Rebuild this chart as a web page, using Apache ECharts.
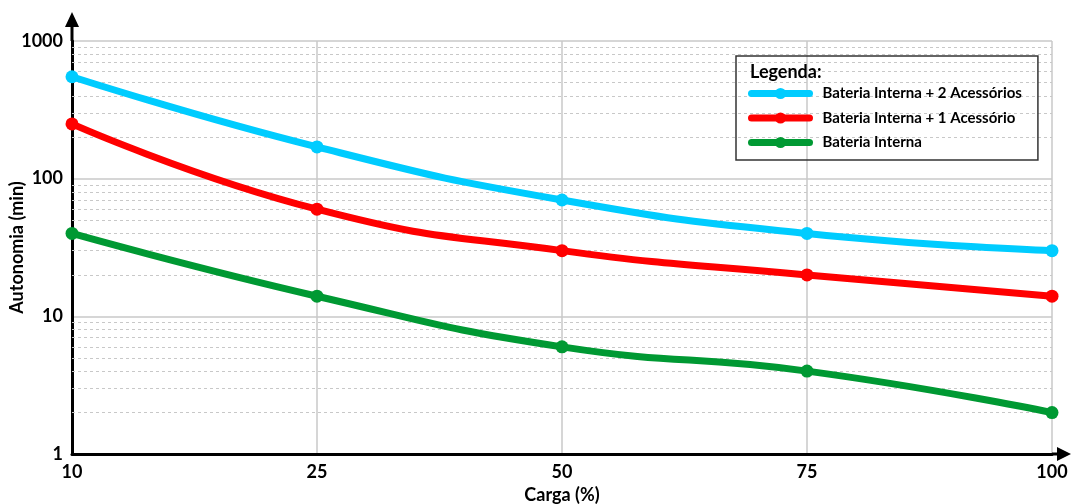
<!DOCTYPE html>
<html>
<head>
<meta charset="utf-8">
<script src="https://cdn.jsdelivr.net/npm/echarts@6/dist/echarts.min.js"></script>
<style>
html, body { margin: 0; padding: 0; background: #fff; }
#chart { width: 1072px; height: 504px; }
</style>
</head>
<body>
<div id="chart"></div>
<script>
// categorias do eixo x (carga %)
var carga = ['10', '25', '50', '75', '100'];
// autonomia em minutos
var bateria2Acess = [550, 170, 70, 40, 30];
var bateria1Acess = [250, 60, 30, 20, 14];
var bateriaInterna = [40, 14, 6, 4, 2];
var nomes = ['Bateria Interna + 2 Acessórios', 'Bateria Interna + 1 Acessório', 'Bateria Interna'];
var cores = ['#00ccff', '#ff0000', '#009933'];
// linhas secundarias da grade (escala log)
var gradeMenor = [2, 3, 4, 5, 6, 7, 8, 9, 20, 30, 40, 50, 60, 70, 80, 90, 200, 300, 400, 500, 600, 700, 800, 900];

var fonte = 'Lato';
var chart = echarts.init(document.getElementById('chart'));

function serie(nome, dados, cor) {
	return {
		name: nome,
		type: 'line',
		data: dados,
		smooth: true,
		symbol: 'circle',
		symbolSize: 13,
		z: 3,
		itemStyle: { color: cor },
		lineStyle: { color: cor, width: 7 }
	};
}

var option = {
	animation: false,
	title: {
		text: 'Legenda:',
		left: 745,
		top: 58,
		textStyle: { fontFamily: fonte, fontWeight: 'bold', fontSize: 18, color: '#000' }
	},
	legend: {
		data: nomes,
		orient: 'vertical',
		left: 736,
		top: 56,
		padding: [30, 16, 10, 12],
		itemGap: 9.5,
		itemWidth: 58,
		itemHeight: 14,
		borderColor: '#333',
		borderWidth: 1.5,
		lineStyle: { width: 7, cap: 'round' },
		textStyle: { fontFamily: fonte, fontWeight: 'bold', fontSize: 15, color: '#000', padding: [0, 0, 0, 8] }
	},
	grid: { left: 72, right: 20, top: 41, bottom: 50, outerBoundsMode: 'none', containLabel: false },
	xAxis: {
		type: 'category',
		boundaryGap: false,
		data: carga,
		name: 'Carga (%)',
		nameLocation: 'middle',
		nameGap: 32,
		nameTextStyle: { fontFamily: fonte, fontWeight: 'bold', fontSize: 18, color: '#000' },
		axisLine: { lineStyle: { color: '#000', width: 3 } },
		axisTick: { show: false },
		axisLabel: { fontFamily: fonte, fontWeight: 'bold', fontSize: 18, color: '#000', margin: 9 },
		splitLine: { show: true, lineStyle: { color: '#c8c8c8', width: 1.5 } }
	},
	yAxis: {
		type: 'log',
		logBase: 10,
		min: 1,
		max: 1000,
		name: 'Autonomia (min)',
		nameLocation: 'middle',
		nameGap: 46,
		nameMoveOverlap: false,
		nameTextStyle: { fontFamily: fonte, fontWeight: 'bold', fontSize: 18, color: '#000' },
		axisLine: { show: true, lineStyle: { color: '#000', width: 3 } },
		axisTick: { show: false },
		axisLabel: {
			fontFamily: fonte, fontWeight: 'bold', fontSize: 18, color: '#000', margin: 9,
			formatter: function(v) { return String(v); }
		},
		splitLine: { show: true, lineStyle: { color: '#c8c8c8', width: 1.5 } }
	},
	series: [
		serie(nomes[0], bateria2Acess, cores[0]),
		serie(nomes[1], bateria1Acess, cores[1]),
		serie(nomes[2], bateriaInterna, cores[2]),
		{
			name: 'grade',
			type: 'line',
			data: [],
			silent: true,
			z: 1,
			markLine: {
				silent: true,
				z: 1,
				symbol: 'none',
				label: { show: false },
				lineStyle: { color: '#c8c8c8', width: 1, type: [3, 3] },
				data: gradeMenor.map(function(v) { return { yAxis: v }; })
			}
		}
	]
};
chart.setOption(option);

// setas dos eixos
var origem = chart.convertToPixel({ gridIndex: 0 }, [carga[0], 1]);
var topo = chart.convertToPixel({ gridIndex: 0 }, [carga[carga.length - 1], 1000]);
var x0 = origem[0], y0 = origem[1], x1 = topo[0], y1 = topo[1];
chart.setOption({
	graphic: [
		{ type: 'line', shape: { x1: x0, y1: y1, x2: x0, y2: y1 - 16 }, style: { stroke: '#000', lineWidth: 3 } },
		{ type: 'polygon', shape: { points: [[x0 - 7, y1 - 14], [x0 + 7, y1 - 14], [x0, y1 - 29]] }, style: { fill: '#000' } },
		{ type: 'line', shape: { x1: x1, y1: y0, x2: x1 + 6, y2: y0 }, style: { stroke: '#000', lineWidth: 3 } },
		{ type: 'polygon', shape: { points: [[x1 + 5, y0 - 7], [x1 + 5, y0 + 7], [x1 + 19, y0]] }, style: { fill: '#000' } }
	]
});
</script>
</body>
</html>
